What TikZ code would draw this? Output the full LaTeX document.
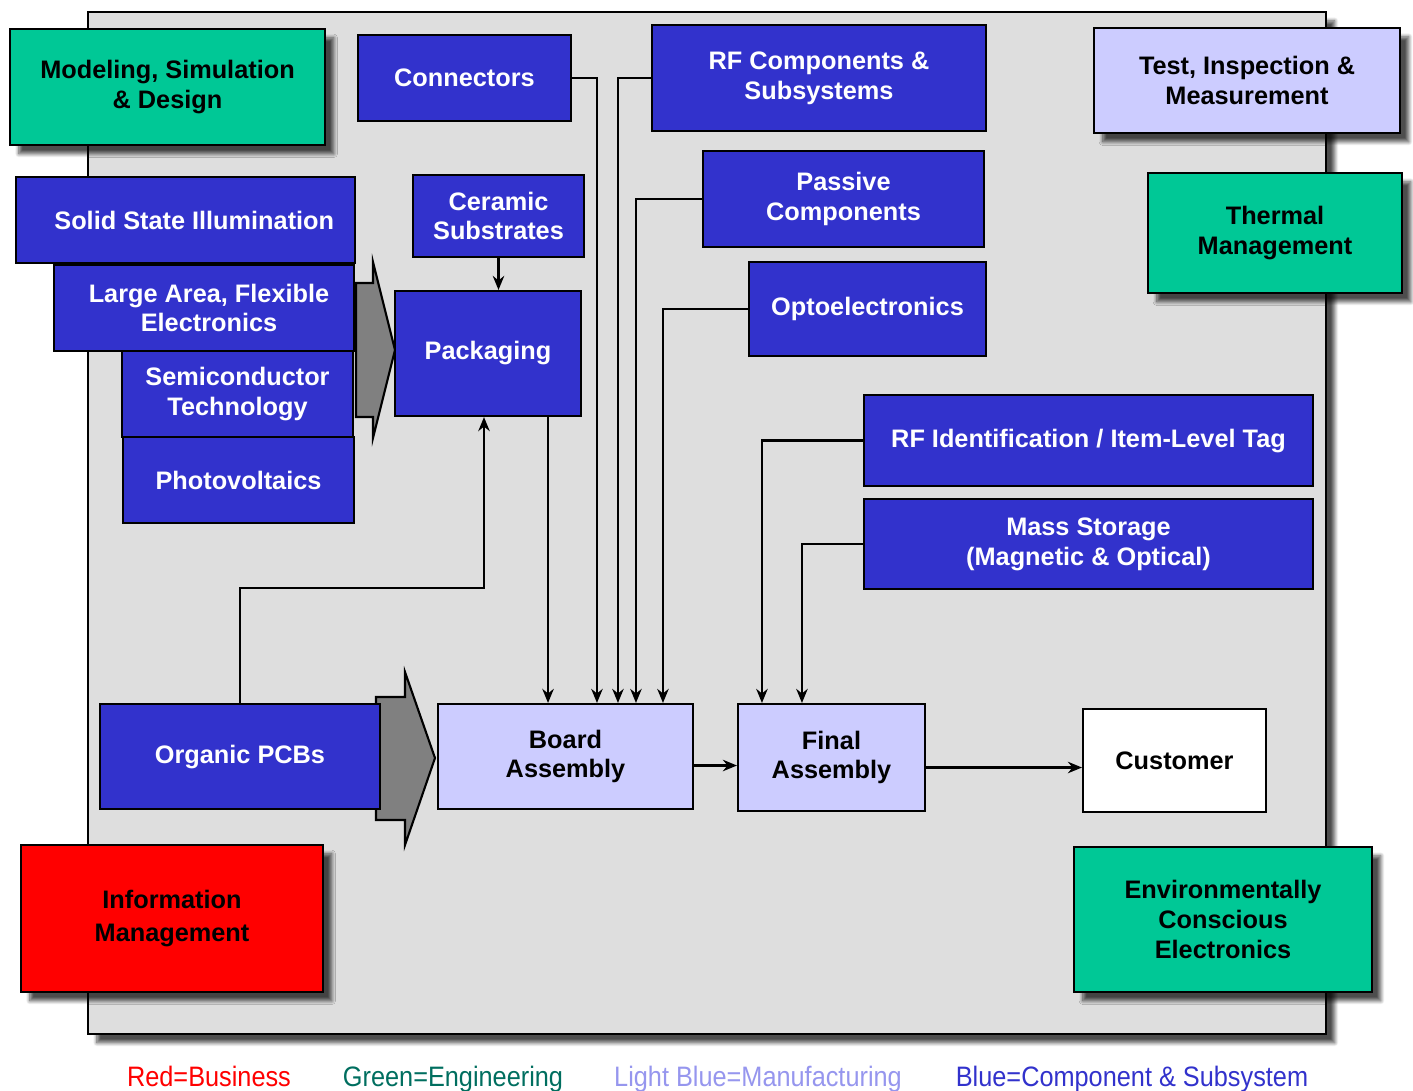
\documentclass[tikz,border=0pt]{standalone}
\usepackage{fontspec}
\setmainfont{Liberation Sans}
\usetikzlibrary{arrows.meta,calc,shadows.blur}
\definecolor{compblue}{RGB}{50,50,204}
\definecolor{mfgblue}{RGB}{204,204,255}
\definecolor{enggreen}{RGB}{0,200,150}
\definecolor{panelgray}{RGB}{222,222,222}
\definecolor{arrowgray}{RGB}{128,128,128}
\definecolor{legteal}{RGB}{0,110,95}
\definecolor{leglight}{RGB}{150,150,238}

\begin{document}
\begin{tikzpicture}[x=0.02cm, y=-0.02cm,
  block/.style={rectangle, draw=black, line width=1.2pt, inner sep=0pt, align=center, font=\fontsize{14.4}{17}\selectfont\bfseries},
  comp/.style={block, fill=compblue, text=white},
  mfg/.style={block, fill=mfgblue, text=black},
  eng/.style={block, fill=enggreen, text=black, shade box},
  biz/.style={block, fill=red, text=black, shade box},
  shade box/.style={blur shadow={shadow xshift=5pt, shadow yshift=-5pt, shadow blur steps=10, shadow opacity=70}},
  arrow/.style={-{Stealth[length=8pt,width=6.5pt]}, line width=1.4pt},
  legend/.style={anchor=base, font=\fontsize{16}{18}\selectfont, xscale=0.9, transform shape}]
\useasboundingbox (0,0) rectangle (1413,1090);

% panel
\node[rectangle, draw=black, line width=1.4pt, fill=panelgray, inner sep=0pt, minimum width=24.76cm, minimum height=20.44cm, shade box] (panel) at (707,523) {};

% gray block arrows
\draw[line width=1.2pt, fill=arrowgray] (356,283) -- (373,283) -- (373,262) -- (395,350) -- (373,438) -- (373,417) -- (356,417) -- cycle;
\draw[line width=1.2pt, fill=arrowgray] (376,697) -- (405,697) -- (405,672) -- (435,758) -- (405,845) -- (405,820) -- (376,820) -- cycle;

% boxes
\node[eng, minimum width=6.30cm, minimum height=2.32cm] (model) at (167.5,87) {Modeling, Simulation\\ \& Design};
\node[comp, minimum width=4.26cm, minimum height=1.72cm] (conn) at (464.5,78) {Connectors};
\node[comp, minimum width=6.68cm, minimum height=2.12cm] (rfcomp) at (819,78) {RF Components \&\\ Subsystems};
\node[mfg, shade box, minimum width=6.12cm, minimum height=2.10cm] (test) at (1247,80.5) {Test, Inspection \&\\ Measurement};
\node[comp, minimum width=6.78cm, minimum height=1.72cm] (ssi) at (185.5,220) {\hspace*{0.35cm}Solid State Illumination};
\node[comp, minimum width=3.42cm, minimum height=1.64cm] (ceramic) at (498.5,216) {Ceramic\\ Substrates};
\node[comp, minimum width=5.62cm, minimum height=1.92cm] (passive) at (843.5,199) {Passive\\ Components};
\node[eng, minimum width=5.08cm, minimum height=2.40cm] (thermal) at (1275,233) {Thermal\\ Management};
\node[comp, minimum width=6.00cm, minimum height=1.72cm] (large) at (204,308) {\hspace*{0.2cm}Large Area, Flexible\\ \hspace*{0.2cm}Electronics};
\node[comp, minimum width=3.72cm, minimum height=2.50cm] (pack) at (488,353.5) {Packaging};
\node[comp, minimum width=4.74cm, minimum height=1.88cm] (opto) at (867.5,309) {Optoelectronics};
\node[comp, minimum width=4.62cm, minimum height=1.72cm] (semi) at (237.5,394) {Semiconductor\\ Technology};
\node[comp, minimum width=4.62cm, minimum height=1.72cm] (photo) at (238.5,480) {Photovoltaics};
\node[comp, minimum width=8.98cm, minimum height=1.82cm] (rfid) at (1088.5,440.5) {RF Identification / Item-Level Tag};
\node[comp, minimum width=8.98cm, minimum height=1.80cm] (mass) at (1088.5,544) {Mass Storage\\ (Magnetic \& Optical)};
\node[comp, minimum width=5.60cm, minimum height=2.10cm] (pcb) at (240,756.5) {Organic PCBs};
\node[mfg, minimum width=5.10cm, minimum height=2.10cm] (board) at (565.5,756.5) {Board\\ Assembly};
\node[mfg, minimum width=3.74cm, minimum height=2.14cm] (final) at (831.5,757.5) {Final\\ Assembly};
\node[block, fill=white, minimum width=3.66cm, minimum height=2.06cm] (cust) at (1174.5,760.5) {Customer};
\node[biz, minimum width=6.04cm, minimum height=2.94cm] (info) at (172,918.5) {Information\\[2pt] Management};
\node[eng, minimum width=5.96cm, minimum height=2.90cm] (env) at (1223,919.5) {Environmentally\\ Conscious\\ Electronics};

% connectors into board assembly
\draw[arrow] (conn.east) -| ($(board.north west)+(160,0)$);
\draw[arrow] (rfcomp.west) -| ($(board.north west)+(181,0)$);
\draw[arrow] (passive.west) -| ($(board.north west)+(199,0)$);
\draw[arrow] (opto.west) -| ($(board.north west)+(226,0)$);
\draw[arrow] ($(pack.south east)+(-34,0)$) coordinate (p1) -- (p1 |- board.north);
\draw[arrow] (ceramic.south) -- (ceramic.south |- pack.north);
\draw[arrow] (pcb.north) -- ++(0,-115) -| ($(pack.south)+(-4,0)$);
% connectors into final assembly
\draw[arrow] (rfid.west) -| ($(final.north west)+(25,0)$);
\draw[arrow] (mass.west) -| ($(final.north west)+(65,0)$);
\draw[arrow] ($(board.east)+(0,9)$) coordinate (b1) -- (b1 -| final.west);
\draw[arrow] ($(final.east)+(0,10)$) coordinate (f1) -- (f1 -| cust.west);

% legend
\node[legend, text=red] (lbiz) at (209,1086) {Red=Business};
\node[legend, text=legteal] (leng) at (453,1086) {Green=Engineering};
\node[legend, text=leglight] (lmfg) at (758,1086) {Light Blue=Manufacturing};
\node[legend, text=compblue] (lcomp) at (1132,1086) {Blue=Component \& Subsystem};
\end{tikzpicture}
\end{document}
